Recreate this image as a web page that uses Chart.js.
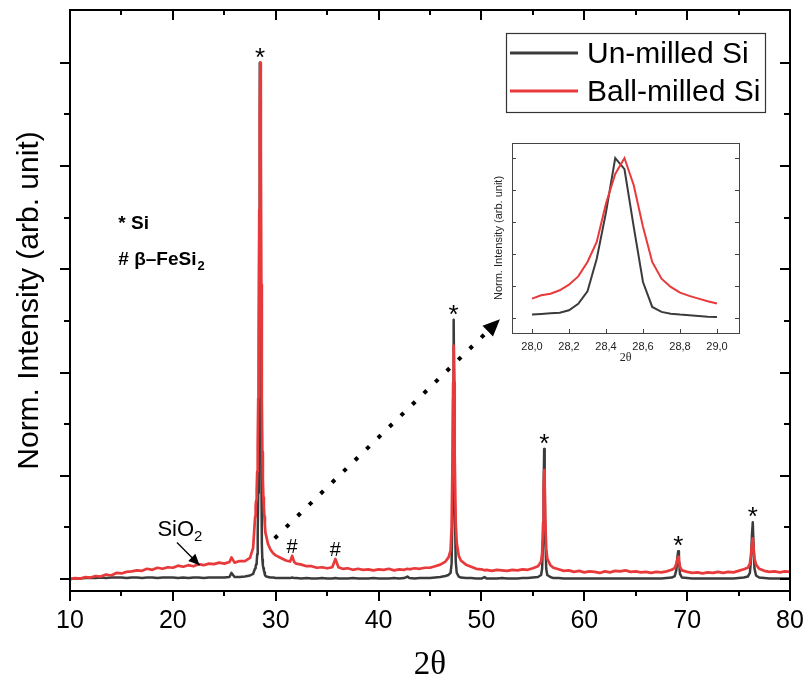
<!DOCTYPE html>
<html lang="en">
<head>
<meta charset="UTF-8">
<title>XRD - Un-milled vs Ball-milled Si</title>
<script src="https://cdn.jsdelivr.net/npm/chart.js"></script>
<style>
  body { margin: 0; background: #fff; }
  .wrap { position: relative; width: 806px; height: 684px; }
  #xrdChart, #zoomChart { position: absolute; left: 0; top: 0; }
</style>
</head>
<body>
<div class="wrap">
  <canvas id="xrdChart" width="806" height="684"></canvas>
  <canvas id="zoomChart" width="806" height="684"></canvas>
</div>
<script>
// 2theta grid (deg) and normalized intensities, read segment by segment
const twoTheta = [
  10, 10.5, 11, 11.5, 12, 12.5, 13, 13.5, 14, 14.5, 15, 15.5, 16, 16.5, 17, 17.5, 18, 18.5, 19, 19.5,
  20, 20.5, 21, 21.5, 22, 22.5, 23, 23.5, 24, 24.5, 25, 25.5, 25.7, 26, 26.5, 27, 27.5,
  27.8, 28.0, 28.05, 28.1, 28.15, 28.2, 28.25, 28.3, 28.35, 28.4, 28.45, 28.5, 28.55, 28.6, 28.65, 28.7,
  28.75, 28.8, 28.85, 28.9, 28.95, 29.0, 29.25, 29.5, 29.75, 30.0,
  30.5, 31.0, 31.4, 31.6, 31.8, 32.0, 32.5, 33.0, 33.5, 34.0, 34.5, 35.0, 35.5, 35.8, 36.1, 36.5, 37.0,
  37.5, 38.0, 38.5, 39.0, 39.5, 40.0, 40.5, 41.0, 41.5, 42.0, 42.5, 42.8, 43.0, 43.5, 44.0, 44.5, 45.0,
  45.5, 46.0, 46.5,
  46.8, 47.0, 47.1, 47.2, 47.25, 47.3, 47.35, 47.4, 47.5, 47.6, 47.8, 48.0, 48.5,
  49.0, 49.5, 50.0, 50.3, 50.5, 51.0, 51.5, 52.0, 52.5, 53.0, 53.5, 54.0, 54.5, 55.0, 55.5,
  55.8, 55.9, 56.0, 56.05, 56.1, 56.15, 56.2, 56.3, 56.4, 56.7, 57.0,
  57.5, 58.0, 58.5, 59.0, 59.5, 60.0, 60.5, 61.0, 61.5, 62.0, 62.5, 63.0, 63.5, 64.0, 64.5, 65.0, 65.5,
  66.0, 66.5, 67.0, 67.5, 68.0, 68.5,
  68.8, 68.95, 69.05, 69.13, 69.2, 69.3, 69.5,
  70.0, 70.5, 71.0, 71.5, 72.0, 72.5, 73.0, 73.5, 74.0, 74.5, 75.0, 75.5,
  75.9, 76.1, 76.2, 76.3, 76.38, 76.45, 76.55, 76.7, 77.0,
  77.5, 78.0, 78.5, 79.0, 79.5, 80.0
];

const unmilled = [
  0.000, 0.001, 0.001, 0.002, 0.002, 0.002, 0.003, 0.002, 0.003, 0.003, 0.003, 0.002, 0.003, 0.003, 0.002, 0.003, 0.003, 0.002, 0.003, 0.003,
  0.003, 0.002, 0.003, 0.002, 0.003, 0.003, 0.002, 0.003, 0.003, 0.003, 0.003, 0.004, 0.012, 0.004, 0.004, 0.005, 0.007,
  0.010, 0.021, 0.025, 0.029, 0.033, 0.048, 0.088, 0.167, 0.370, 0.660, 1.000, 0.930, 0.570, 0.225, 0.069, 0.038,
  0.027, 0.021, 0.017, 0.013, 0.008, 0.006, 0.004, 0.003, 0.003, 0.002,
  0.002, 0.002, 0.002, 0.003, 0.002, 0.002, 0.001, 0.002, 0.001, 0.001, 0.002, 0.001, 0.001, 0.002, 0.001, 0.001, 0.001,
  0.002, 0.001, 0.001, 0.001, 0.002, 0.001, 0.001, 0.001, 0.002, 0.001, 0.002, 0.005, 0.002, 0.001, 0.002, 0.002, 0.002,
  0.003, 0.004, 0.006,
  0.008, 0.012, 0.030, 0.150, 0.350, 0.502, 0.380, 0.160, 0.035, 0.012, 0.005, 0.003, 0.002,
  0.002, 0.001, 0.001, 0.004, 0.001, 0.001, 0.001, 0.002, 0.001, 0.001, 0.001, 0.002, 0.002, 0.003, 0.004,
  0.008, 0.020, 0.080, 0.180, 0.252, 0.200, 0.090, 0.020, 0.008, 0.004, 0.002,
  0.002, 0.001, 0.001, 0.001, 0.001, 0.001, 0.001, 0.001, 0.001, 0.001, 0.001, 0.001, 0.001, 0.001, 0.001, 0.001, 0.001,
  0.001, 0.001, 0.001, 0.001, 0.002, 0.003,
  0.006, 0.018, 0.042, 0.054, 0.038, 0.010, 0.003,
  0.002, 0.001, 0.001, 0.001, 0.001, 0.001, 0.001, 0.001, 0.001, 0.001, 0.002, 0.003,
  0.005, 0.012, 0.035, 0.085, 0.110, 0.070, 0.020, 0.007, 0.003,
  0.002, 0.001, 0.001, 0.001, 0.001, 0.001
];

const ballMilled = [
  0.000, 0.002, 0.001, 0.004, 0.003, 0.006, 0.005, 0.009, 0.007, 0.012, 0.011, 0.014, 0.015, 0.017, 0.016, 0.020, 0.018, 0.022, 0.020, 0.023,
  0.022, 0.026, 0.024, 0.027, 0.025, 0.029, 0.027, 0.030, 0.029, 0.032, 0.030, 0.033, 0.042, 0.032, 0.035, 0.035, 0.041,
  0.060, 0.121, 0.142, 0.152, 0.173, 0.208, 0.260, 0.350, 0.475, 0.715, 0.900, 1.000, 0.830, 0.570, 0.350, 0.246,
  0.194, 0.158, 0.138, 0.121, 0.104, 0.090, 0.068, 0.057, 0.050, 0.046,
  0.041, 0.036, 0.034, 0.045, 0.033, 0.030, 0.028, 0.025, 0.025, 0.022, 0.023, 0.021, 0.023, 0.039, 0.023, 0.020, 0.021,
  0.018, 0.020, 0.018, 0.019, 0.017, 0.019, 0.018, 0.020, 0.017, 0.019, 0.018, 0.020, 0.019, 0.021, 0.020, 0.022, 0.022,
  0.025, 0.028, 0.034,
  0.042, 0.055, 0.100, 0.250, 0.380, 0.452, 0.380, 0.240, 0.110, 0.070, 0.045, 0.036, 0.028,
  0.024, 0.020, 0.019, 0.017, 0.018, 0.016, 0.018, 0.017, 0.016, 0.018, 0.017, 0.019, 0.018, 0.021, 0.025,
  0.034, 0.050, 0.110, 0.170, 0.211, 0.180, 0.120, 0.060, 0.040, 0.027, 0.022,
  0.019, 0.016, 0.017, 0.014, 0.016, 0.013, 0.015, 0.014, 0.012, 0.015, 0.013, 0.016, 0.015, 0.017, 0.014, 0.015, 0.013,
  0.014, 0.012, 0.014, 0.013, 0.015, 0.018,
  0.022, 0.030, 0.039, 0.043, 0.036, 0.024, 0.017,
  0.014, 0.012, 0.013, 0.011, 0.013, 0.012, 0.014, 0.012, 0.014, 0.013, 0.016, 0.019,
  0.022, 0.030, 0.045, 0.068, 0.079, 0.062, 0.040, 0.028, 0.020,
  0.016, 0.014, 0.015, 0.013, 0.015, 0.014
];

// close-up of the Si(111) reflection
const insetTheta = [28.0, 28.05, 28.1, 28.15, 28.2, 28.25, 28.3, 28.35, 28.4, 28.45, 28.5,
  28.55, 28.6, 28.65, 28.7, 28.75, 28.8, 28.85, 28.9, 28.95, 29.0];
const insetUnmilled = [0.021, 0.025, 0.029, 0.033, 0.048, 0.088, 0.167, 0.370, 0.660, 1.000, 0.930,
  0.570, 0.225, 0.069, 0.038, 0.027, 0.021, 0.017, 0.013, 0.008, 0.006];
const insetBallMilled = [0.121, 0.142, 0.152, 0.173, 0.208, 0.260, 0.350, 0.475, 0.715, 0.900, 1.000,
  0.830, 0.570, 0.350, 0.246, 0.194, 0.158, 0.138, 0.121, 0.104, 0.090];

// axis ticks
const xMajorTicks = [10, 20, 30, 40, 50, 60, 70, 80];
const xMinorTicks = [15, 25, 35, 45, 55, 65, 75];
const yMajorTicks = [0, 0.2, 0.4, 0.6, 0.8, 1.0];
const yMinorTicks = [0.1, 0.3, 0.5, 0.7, 0.9];
const insetXTicks = [28.0, 28.2, 28.4, 28.6, 28.8, 29.0];
const insetYTicks = [0, 0.2, 0.4, 0.6, 0.8, 1.0];

// peak markers: position and height of the marked peak
const siPeaks = [28.47, 47.3, 56.12, 69.13, 76.38];
const siPeakTops = [1.0, 0.502, 0.252, 0.054, 0.110];
const fesiPeaks = [31.6, 35.8];
const fesiPeakTops = [0.045, 0.039];

const colUn = '#3b3b3b';
const colBall = '#e8393b';
const sans = '"Liberation Sans", Arial, sans-serif';
const serif = '"Liberation Serif", "Times New Roman", serif';

Chart.defaults.font.family = sans;
Chart.defaults.color = '#000';

function toPoints(xs, ys) {
  return xs.map((x, i) => ({ x: x, y: ys[i] }));
}

function arrowHead(ctx, x0, y0, x1, y1, len, half) {
  const a = Math.atan2(y1 - y0, x1 - x0);
  ctx.beginPath();
  ctx.moveTo(x1, y1);
  ctx.lineTo(x1 - len * Math.cos(a) + half * Math.sin(a), y1 - len * Math.sin(a) - half * Math.cos(a));
  ctx.lineTo(x1 - len * Math.cos(a) - half * Math.sin(a), y1 - len * Math.sin(a) + half * Math.cos(a));
  ctx.closePath();
  ctx.fill();
}

// frame with Origin-style ticks: bottom/left outward, top/right inward
const frameTicks = {
  id: 'frameTicks',
  afterDraw(chart) {
    const { ctx, chartArea: a, scales: { x, y } } = chart;
    ctx.save();
    ctx.strokeStyle = '#000';
    ctx.lineWidth = 2;
    ctx.strokeRect(a.left, a.top, a.right - a.left, a.bottom - a.top);
    ctx.beginPath();
    const xt = (v, len) => {
      const px = Math.round(x.getPixelForValue(v));
      ctx.moveTo(px, a.bottom); ctx.lineTo(px, a.bottom + len);
      ctx.moveTo(px, a.top); ctx.lineTo(px, a.top + len);
    };
    const yt = (v, len) => {
      const py = Math.round(y.getPixelForValue(v));
      ctx.moveTo(a.left - len, py); ctx.lineTo(a.left, py);
      ctx.moveTo(a.right - len, py); ctx.lineTo(a.right, py);
    };
    xMajorTicks.forEach(v => xt(v, 10));
    xMinorTicks.forEach(v => xt(v, 5));
    yMajorTicks.forEach(v => yt(v, 10));
    yMinorTicks.forEach(v => yt(v, 6));
    ctx.stroke();
    ctx.restore();
  }
};

// peak labels, phase key, SiO2 note and the pointer to the close-up
const annotations = {
  id: 'annotations',
  afterDraw(chart) {
    const { ctx, scales: { x, y } } = chart;
    ctx.save();
    ctx.fillStyle = '#000';
    ctx.strokeStyle = '#000';
    ctx.textAlign = 'center';
    ctx.textBaseline = 'alphabetic';

    const centred = (txt, px, cy) => {
      const m = ctx.measureText(txt);
      const shift = (m.actualBoundingBoxAscent - m.actualBoundingBoxDescent) / 2;
      ctx.fillText(txt, px, cy + shift);
    };
    ctx.font = '26px ' + sans;
    siPeaks.forEach((p, i) => centred('*', x.getPixelForValue(p), y.getPixelForValue(siPeakTops[i]) - 10));
    ctx.font = '20px ' + sans;
    fesiPeaks.forEach((p, i) => centred('#', x.getPixelForValue(p), y.getPixelForValue(fesiPeakTops[i]) - 10));

    // phase key
    ctx.textAlign = 'left';
    ctx.font = 'bold 19px ' + sans;
    const kx = x.getPixelForValue(14.7);
    ctx.fillText('* Si', kx, y.getPixelForValue(0.678));
    const ky = y.getPixelForValue(0.608);
    ctx.fillText('# \u03b2\u2013FeSi', kx, ky);
    const w = ctx.measureText('# \u03b2\u2013FeSi').width;
    ctx.font = 'bold 13px ' + sans;
    ctx.fillText('2', kx + w + 1, ky + 5);

    // SiO2 with arrow
    ctx.font = '22px ' + sans;
    const sx = x.getPixelForValue(18.5), sy = y.getPixelForValue(0.084);
    ctx.fillText('SiO', sx, sy);
    const sw = ctx.measureText('SiO').width;
    ctx.font = '15px ' + sans;
    ctx.fillText('2', sx + sw, sy + 5);
    const a0 = [x.getPixelForValue(20.4), y.getPixelForValue(0.071)];
    const a1 = [x.getPixelForValue(22.6), y.getPixelForValue(0.027)];
    ctx.lineWidth = 1.3;
    ctx.beginPath();
    ctx.moveTo(a0[0], a0[1]);
    ctx.lineTo(a1[0], a1[1]);
    ctx.stroke();
    arrowHead(ctx, a0[0], a0[1], a1[0], a1[1], 11, 5);

    // dotted pointer towards the close-up
    const d0 = [x.getPixelForValue(29.9), y.getPixelForValue(0.079)];
    const d1 = [x.getPixelForValue(51.8), y.getPixelForValue(0.503)];
    const ang = Math.atan2(d1[1] - d0[1], d1[0] - d0[0]);
    ctx.lineWidth = 4;
    ctx.setLineDash([4, 12]);
    ctx.beginPath();
    ctx.moveTo(d0[0], d0[1]);
    ctx.lineTo(d1[0] - 12 * Math.cos(ang), d1[1] - 12 * Math.sin(ang));
    ctx.stroke();
    ctx.setLineDash([]);
    arrowHead(ctx, d0[0], d0[1], d1[0], d1[1], 17, 7.5);
    ctx.restore();
  }
};

// boxed legend in the upper right
const legendBox = {
  id: 'legendBox',
  afterDraw(chart) {
    const ctx = chart.ctx;
    ctx.save();
    ctx.strokeStyle = '#333';
    ctx.lineWidth = 1.2;
    ctx.strokeRect(506.5, 33.5, 259, 79);
    ctx.font = '30px ' + sans;
    ctx.textBaseline = 'middle';
    chart.data.datasets.forEach((ds, i) => {
      const cy = 53 + i * 38;
      ctx.strokeStyle = ds.borderColor;
      ctx.lineWidth = 3;
      ctx.beginPath();
      ctx.moveTo(510, cy);
      ctx.lineTo(578, cy);
      ctx.stroke();
      ctx.fillStyle = '#000';
      ctx.fillText(ds.label, 587, cy + 2);
    });
    ctx.restore();
  }
};

new Chart(document.getElementById('xrdChart'), {
  type: 'line',
  data: {
    datasets: [
      { label: 'Un-milled Si', data: toPoints(twoTheta, unmilled), borderColor: colUn, borderWidth: 2.5, order: 2 },
      { label: 'Ball-milled Si', data: toPoints(twoTheta, ballMilled), borderColor: colBall, borderWidth: 2.7, order: 1 }
    ]
  },
  options: {
    responsive: false,
    animation: false,
    events: [],
    elements: { point: { radius: 0 }, line: { tension: 0, borderJoinStyle: 'round' } },
    layout: { padding: { top: 10, right: 16, left: 0, bottom: 0 } },
    plugins: { legend: { display: false }, tooltip: { enabled: false } },
    scales: {
      x: {
        type: 'linear', min: 10, max: 80,
        afterBuildTicks: s => { s.ticks = xMajorTicks.map(v => ({ value: v })); },
        ticks: { font: { size: 25 }, color: '#000', padding: 15 },
        grid: { display: false, drawTicks: false },
        border: { display: false },
        title: { display: true, text: '2\u03b8', font: { family: serif, size: 33 }, color: '#000', padding: { top: 0, bottom: -1 } },
        afterFit: s => { s.height = 93; s.paddingLeft = 0; s.paddingRight = 0; }
      },
      y: {
        type: 'linear', min: -0.023, max: 1.102,
        ticks: { display: false },
        grid: { display: false, drawTicks: false },
        border: { display: false },
        title: { display: true, text: 'Norm. Intensity (arb. unit)', font: { size: 30 }, color: '#000', padding: { top: 12, bottom: 0 } },
        afterFit: s => { s.width = 70; }
      }
    }
  },
  plugins: [frameTicks, annotations, legendBox]
});

// close-up frame: white panel, thin border, inward ticks
const insetFrame = {
  id: 'insetFrame',
  beforeDraw(chart) {
    const { ctx, chartArea: a } = chart;
    ctx.save();
    ctx.fillStyle = '#fff';
    ctx.fillRect(a.left, a.top, a.right - a.left, a.bottom - a.top);
    ctx.restore();
  },
  afterDraw(chart) {
    const { ctx, chartArea: a, scales: { x, y } } = chart;
    ctx.save();
    ctx.strokeStyle = '#444';
    ctx.lineWidth = 1;
    ctx.strokeRect(a.left + 0.5, a.top + 0.5, a.right - a.left, a.bottom - a.top);
    ctx.beginPath();
    insetXTicks.forEach(v => {
      const px = Math.round(x.getPixelForValue(v)) + 0.5;
      ctx.moveTo(px, a.bottom); ctx.lineTo(px, a.bottom - 4);
    });
    insetYTicks.forEach(v => {
      const py = Math.round(y.getPixelForValue(v)) + 0.5;
      ctx.moveTo(a.left, py); ctx.lineTo(a.left + 4, py);
      ctx.moveTo(a.right, py); ctx.lineTo(a.right - 4, py);
    });
    ctx.stroke();
    ctx.restore();
  }
};

new Chart(document.getElementById('zoomChart'), {
  type: 'line',
  data: {
    datasets: [
      { label: 'Un-milled Si', data: toPoints(insetTheta, insetUnmilled), borderColor: colUn, borderWidth: 2, order: 2 },
      { label: 'Ball-milled Si', data: toPoints(insetTheta, insetBallMilled), borderColor: colBall, borderWidth: 2, order: 1 }
    ]
  },
  options: {
    responsive: false,
    animation: false,
    events: [],
    elements: { point: { radius: 0 }, line: { tension: 0 } },
    layout: { padding: { left: 492, top: 143, right: 67, bottom: 319 } },
    plugins: { legend: { display: false }, tooltip: { enabled: false } },
    scales: {
      x: {
        type: 'linear', min: 27.892, max: 29.119,
        afterBuildTicks: s => { s.ticks = insetXTicks.map(v => ({ value: v })); },
        ticks: { font: { size: 11 }, color: '#222', padding: 7, callback: v => v.toFixed(1).replace('.', ',') },
        grid: { display: false, drawTicks: false },
        border: { display: false },
        title: { display: true, text: '2\u03b8', font: { family: serif, size: 12 }, color: '#222', padding: 0 },
        afterFit: s => { s.height = 32; s.paddingLeft = 0; s.paddingRight = 0; }
      },
      y: {
        type: 'linear', min: -0.094, max: 1.094,
        ticks: { display: false },
        grid: { display: false, drawTicks: false },
        border: { display: false },
        title: { display: true, text: 'Norm. Intensity (arb. unit)', font: { size: 11 }, color: '#222', padding: 0 },
        afterFit: s => { s.width = 20; }
      }
    }
  },
  plugins: [insetFrame]
});
</script>
</body>
</html>
